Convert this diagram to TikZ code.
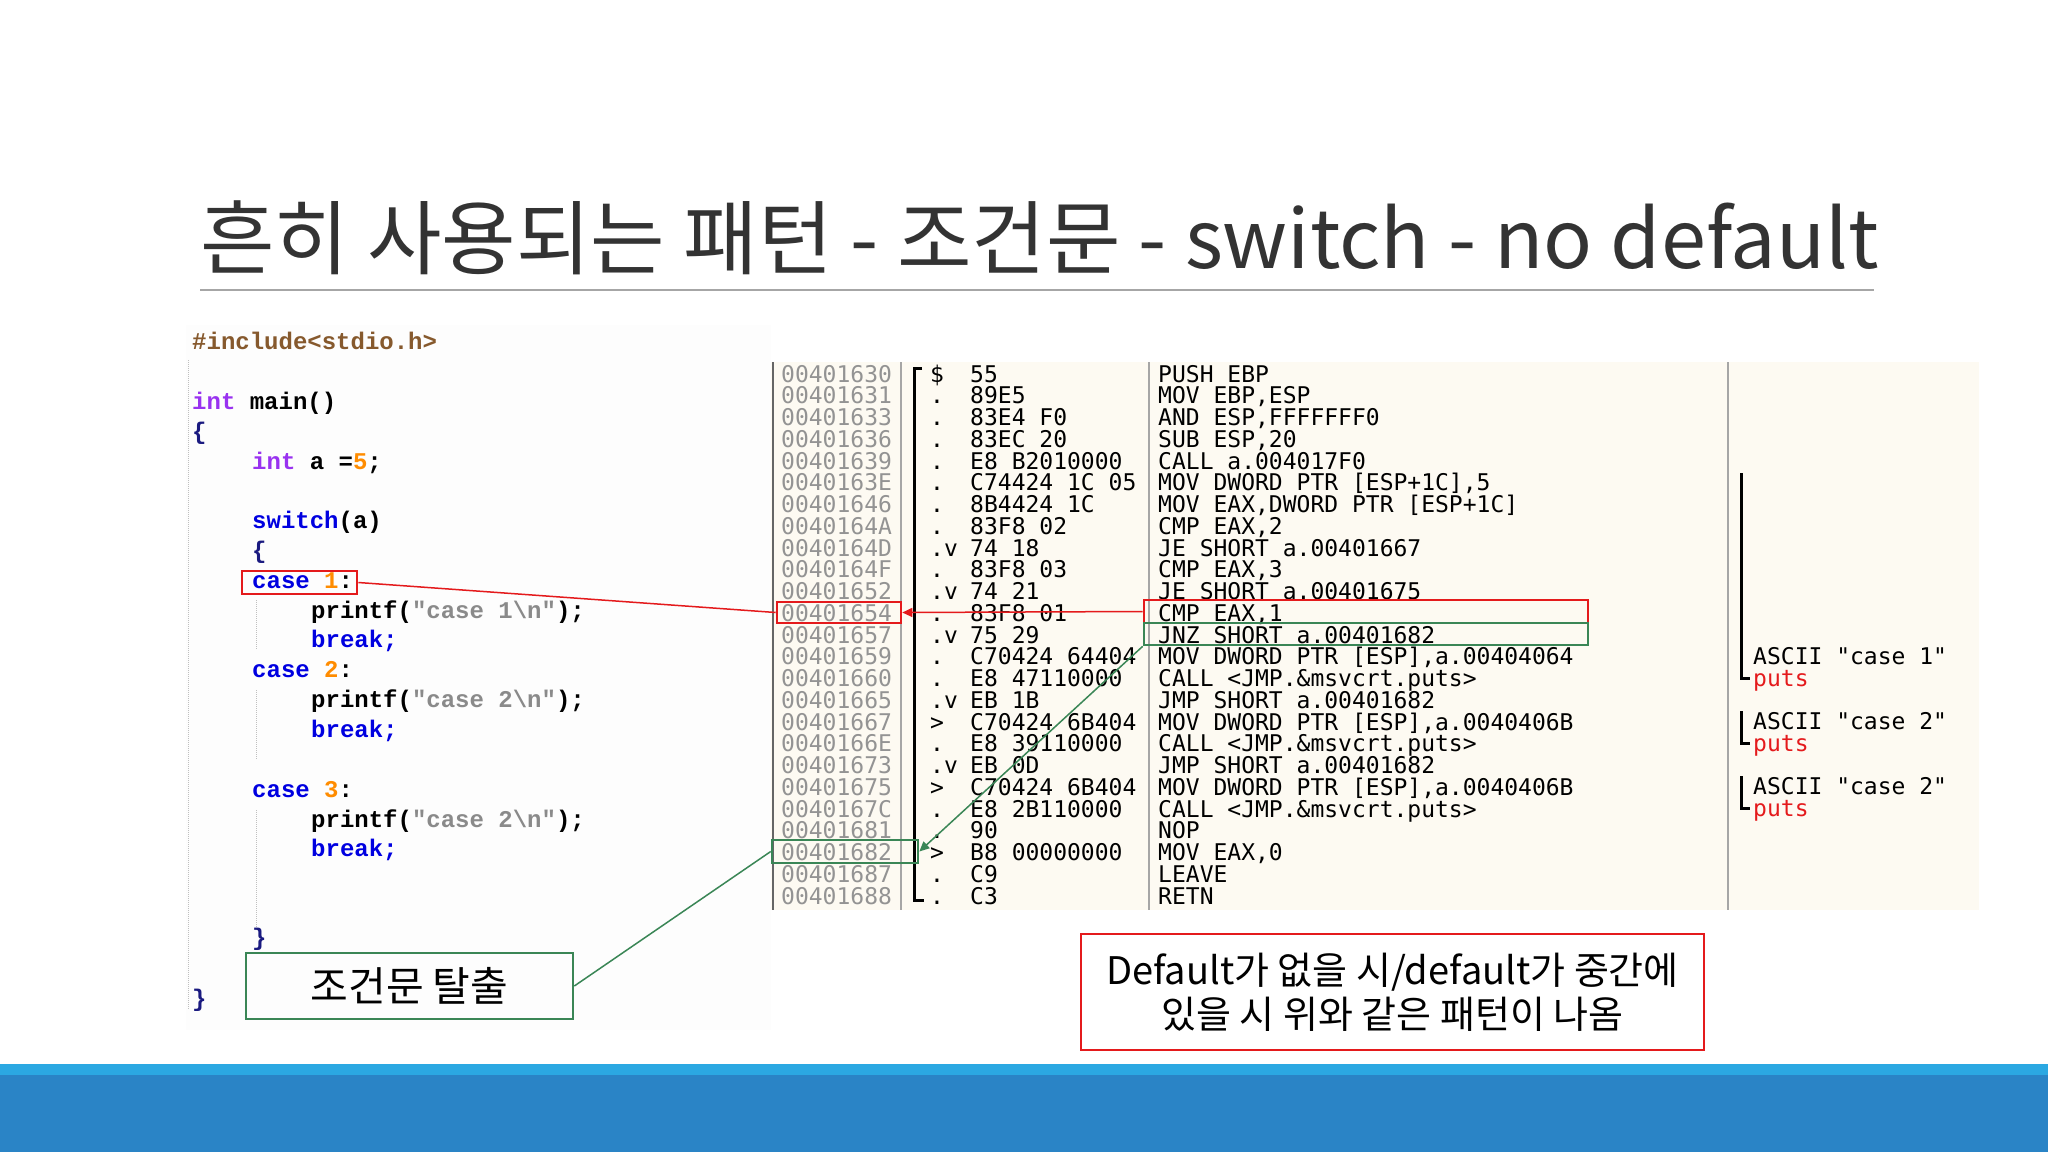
\documentclass[tikz,border=0pt]{standalone}
\usepackage{fontspec}
\setmainfont{Noto Sans CJK KR}
\newfontfamily\codef{Liberation Mono}
\newfontfamily\dasm{DejaVu Sans Mono}
\usetikzlibrary{arrows.meta}
\definecolor{redc}{HTML}{E41A1C}
\definecolor{grnc}{HTML}{3A8656}
\definecolor{panel}{HTML}{FDFAF2}
\definecolor{kw}{HTML}{0000E0}
\definecolor{typ}{HTML}{9932F0}
\definecolor{num}{HTML}{FF8C00}
\definecolor{strc}{HTML}{8A8A8A}
\definecolor{brc}{HTML}{1A1A80}
\definecolor{footA}{HTML}{2BA8E2}
\definecolor{footB}{HTML}{2A84C6}
\tikzset{
  cl/.style={anchor=base west,inner sep=0pt,font=\codef\fontsize{24}{24}\selectfont\bfseries},
  dl/.style={anchor=base west,inner sep=0pt,font=\dasm\fontsize{23}{23}\selectfont},
  ad/.style={dl,text=gray!85},
  rbox/.style={draw=redc,line width=2.6pt},
  gbox/.style={draw=grnc,line width=2.6pt},
}
\begin{document}
\begin{tikzpicture}[x=1pt,y=-1pt]
\useasboundingbox (0,0) rectangle (2048,1152);
\fill[white] (0,0) rectangle (2048,1152);
% title
\node[anchor=base west,inner sep=0pt,font=\fontsize{81}{81}\selectfont,text=black!80] (title) at (200,268) {흔히 사용되는 패턴 - 조건문 - switch - no default};
\draw[gray!70,line width=1.2pt] (200,290) -- (1874,290);
% code panel
\fill[black!0.8] (186,325) rectangle (771,1030);
\draw[gray!50,densely dotted,line width=1pt] (188,360) -- (188,1010);
\draw[gray!50,densely dotted,line width=1pt] (256,600) -- (256,650);
\draw[gray!50,densely dotted,line width=1pt] (256,690) -- (256,760);
\draw[gray!50,densely dotted,line width=1pt] (256,810) -- (256,930);
\node[cl,text=brown!70!black] (c0) at (192,349) {\#include<stdio.h>};
\node[cl] (c1) at (192,409) {\textcolor{typ}{int} main()};
\node[cl,text=brc] (c2) at (192,439) {\{};
\node[cl] (c3) at (252,469) {\textcolor{typ}{int} a =\textcolor{num}{5};};
\node[cl] (c4) at (252,528) {\textcolor{kw}{switch}(a)};
\node[cl,text=brc] (c5) at (252,558) {\{};
\node[cl] (c6) at (252,588) {\textcolor{kw}{case} \textcolor{num}{1}:};
\node[cl] (c7) at (311,618) {printf(\textcolor{strc}{"case 1\textbackslash n"});};
\node[cl,text=kw] (c8) at (311,647) {break;};
\node[cl] (c9) at (252,677) {\textcolor{kw}{case} \textcolor{num}{2}:};
\node[cl] (c10) at (311,707) {printf(\textcolor{strc}{"case 2\textbackslash n"});};
\node[cl,text=kw] (c11) at (311,737) {break;};
\node[cl] (c12) at (252,797) {\textcolor{kw}{case} \textcolor{num}{3}:};
\node[cl] (c13) at (311,827) {printf(\textcolor{strc}{"case 2\textbackslash n"});};
\node[cl,text=kw] (c14) at (311,856) {break;};
\node[cl,text=brc] (c15) at (252,945) {\}};
\node[cl,text=brc] (c16) at (192,1006) {\}};
% disasm panel
\fill[panel] (771,362) rectangle (1979,910);
\draw[gray!80!black,line width=1.5pt] (773,362) -- (773,910);
\draw[gray!70,line width=1.2pt] (901,362) -- (901,910);
\draw[gray!70,line width=1.2pt] (1149,362) -- (1149,910);
\draw[gray!70,line width=1.2pt] (1728,362) -- (1728,910);
\draw[black,line width=3pt] (922,368) -- (914,368) -- (914,900) -- (924,900);
\foreach \i/\a/\f/\h/\m in {
0/00401630/\$/55/PUSH EBP,
1/00401631/./89E5/{MOV EBP,ESP},
2/00401633/./83E4 F0/{AND ESP,FFFFFFF0},
3/00401636/./83EC 20/{SUB ESP,20},
4/00401639/./E8 B2010000/CALL a.004017F0,
5/0040163E/./C74424 1C 05/{MOV DWORD PTR [ESP+1C],5},
6/00401646/./8B4424 1C/{MOV EAX,DWORD PTR [ESP+1C]},
7/0040164A/./83F8 02/{CMP EAX,2},
8/0040164D/.v/74 18/JE SHORT a.00401667,
9/0040164F/./83F8 03/{CMP EAX,3},
10/00401652/.v/74 21/JE SHORT a.00401675,
11/00401654/./83F8 01/{CMP EAX,1},
12/00401657/.v/75 29/JNZ SHORT a.00401682,
13/00401659/./C70424 64404/{MOV DWORD PTR [ESP],a.00404064},
14/00401660/./E8 47110000/CALL <JMP.\&msvcrt.puts>,
15/00401665/.v/EB 1B/JMP SHORT a.00401682,
16/00401667/>/C70424 6B404/{MOV DWORD PTR [ESP],a.0040406B},
17/0040166E/./E8 39110000/CALL <JMP.\&msvcrt.puts>,
18/00401673/.v/EB 0D/JMP SHORT a.00401682,
19/00401675/>/C70424 6B404/{MOV DWORD PTR [ESP],a.0040406B},
20/0040167C/./E8 2B110000/CALL <JMP.\&msvcrt.puts>,
21/00401681/./90/NOP,
22/00401682/>/B8 00000000/{MOV EAX,0},
23/00401687/./C9/LEAVE,
24/00401688/./C3/RETN}{
  \pgfmathsetmacro\yy{382+21.75*\i}
  \node[ad] (a\i) at (781,\yy) {\a};
  \node[dl] (f\i) at (930,\yy) {\f};
  \node[dl] (h\i) at (970,\yy) {\h};
  \node[dl] (m\i) at (1158,\yy) {\m};
}
% comments
\draw[black,line width=3pt] (1741,473) -- (1741,678) -- (1750,678);
\draw[black,line width=3pt] (1741,711) -- (1741,743) -- (1750,743);
\draw[black,line width=3pt] (1741,776) -- (1741,808) -- (1750,808);
\node[dl] (k1) at (1753,664) {ASCII "case 1"};
\node[dl,text=redc] (p1) at (1753,686) {puts};
\node[dl] (k2) at (1753,729) {ASCII "case 2"};
\node[dl,text=redc] (p2) at (1753,751) {puts};
\node[dl] (k3) at (1753,794) {ASCII "case 2"};
\node[dl,text=redc] (p3) at (1753,816) {puts};
% highlight boxes
\node[rbox,minimum width=115,minimum height=23,inner sep=0pt] (case1) at (299.5,582.5) {};
\node[rbox,minimum width=124,minimum height=21,inner sep=0pt] (addr1) at (839,612.5) {};
\node[rbox,minimum width=444,minimum height=23,inner sep=0pt] (cmp1) at (1366,611.5) {};
\node[gbox,minimum width=444,minimum height=22,inner sep=0pt] (jnz) at (1366,634) {};
\node[gbox,minimum width=146,minimum height=23,inner sep=0pt] (addr2) at (845,851.5) {};
\draw[redc,line width=1.5pt] (case1.east) -- (addr1.west);
\draw[redc,line width=1.5pt,-{Triangle[length=10pt,width=9pt]}] (cmp1.west) -- (addr1.east);
\draw[grnc,line width=1.5pt,-{Triangle[length=10pt,width=9pt]}] (jnz.south west) -- (addr2.east);
% label boxes
\node[gbox,minimum width=327,minimum height=66,inner sep=0pt,font=\fontsize{41}{41}\selectfont] (exit) at (409.5,986) {조건문 탈출};
\draw[grnc,line width=1.5pt] (exit.east) -- (addr2.west);
\node[rbox,minimum width=623,minimum height=116,inner sep=0pt,align=center,font=\fontsize{38}{44}\selectfont] (note) at (1392.5,992) {Default가 없을 시/default가 중간에\\있을 시 위와 같은 패턴이 나옴};
% footer
\fill[footA] (0,1064) rectangle (2048,1075);
\fill[footB] (0,1075) rectangle (2048,1152);
\end{tikzpicture}
\end{document}
